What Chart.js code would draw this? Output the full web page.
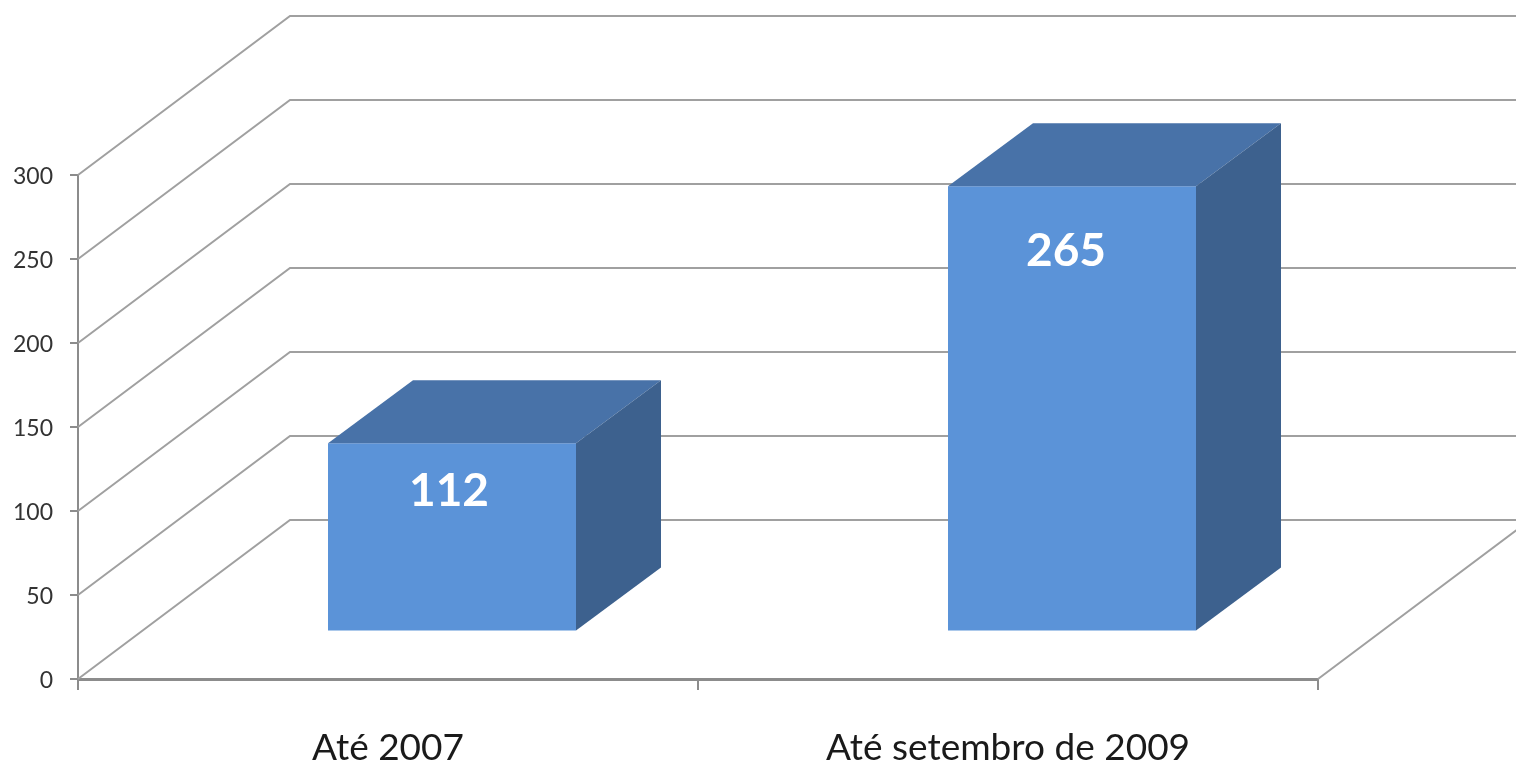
<!DOCTYPE html>
<html>
<head>
<meta charset="utf-8">
<style>
  html, body { margin: 0; padding: 0; background: #fff; }
  canvas { display: block; }
</style>
<script src="https://cdn.jsdelivr.net/npm/chart.js@4"></script>
</head>
<body>
<canvas id="myChart" width="1516" height="764"></canvas>
<script>
const categories = ["Até 2007", "Até setembro de 2009"];
const values = [112, 265];
const yTicks = [0, 50, 100, 150, 200, 250, 300];

const wallColor = "#a0a0a0";
const axisColor = "#8c8c8c";
const frontColor = "#5b93d8";
const topColor = "#4872a8";
const sideColor = "#3d618e";

// 3d look: how far the back wall and the bars sit from the front plane
const wallDepth = { x: 212, y: -159 };
const barShift = { x: 64, y: -47.5 };
const barDepth = { x: 85, y: -63 };
const labelDrop = [47.5, 64.5];
const labelNudge = [-3, -6];

function poly(ctx, pts, color) {
  ctx.fillStyle = color;
  ctx.beginPath();
  pts.forEach((p, i) => i ? ctx.lineTo(p[0], p[1]) : ctx.moveTo(p[0], p[1]));
  ctx.closePath();
  ctx.fill();
}

const fake3d = {
  id: "fake3d",
  beforeDatasetsDraw(chart) {
    const ctx = chart.ctx;
    const { x, y } = chart.scales;
    ctx.save();
    ctx.strokeStyle = wallColor;
    ctx.lineWidth = 2;
    ctx.beginPath();
    y.ticks.forEach(t => {
      const py = y.getPixelForValue(t.value);
      ctx.moveTo(x.left, py);
      ctx.lineTo(x.left + wallDepth.x, py + wallDepth.y);
      ctx.lineTo(x.right + wallDepth.x, py + wallDepth.y);
    });
    // floor edge on the right side
    const floorY = y.getPixelForValue(0);
    ctx.moveTo(x.right, floorY);
    ctx.lineTo(x.right + wallDepth.x, floorY + wallDepth.y);
    ctx.stroke();

    // y tick labels sit a bit under their ticks, the scale can't do that itself
    ctx.fillStyle = "#333";
    ctx.font = "23px Lato";
    ctx.textAlign = "right";
    ctx.textBaseline = "middle";
    y.ticks.forEach(t => {
      ctx.fillText(t.label, x.left - 25, y.getPixelForValue(t.value) + 2);
    });
    ctx.restore();
  },
  beforeDatasetDraw(chart) {
    // the front faces are the library's own bars, moved into the floor
    chart.ctx.save();
    chart.ctx.translate(barShift.x, barShift.y);
  },
  afterDatasetDraw(chart, args) {
    const ctx = chart.ctx;
    args.meta.data.forEach(bar => {
      const l = bar.x - bar.width / 2, r = bar.x + bar.width / 2;
      const t = bar.y, b = bar.base;
      poly(ctx, [[l, t], [r, t], [r + barDepth.x, t + barDepth.y], [l + barDepth.x, t + barDepth.y]], topColor);
      poly(ctx, [[r, t], [r + barDepth.x, t + barDepth.y], [r + barDepth.x, b + barDepth.y], [r, b]], sideColor);
    });
    ctx.restore();
  },
  afterDatasetsDraw(chart) {
    const ctx = chart.ctx;
    ctx.save();
    ctx.fillStyle = "#fff";
    ctx.font = "bold 46px Lato";
    ctx.textAlign = "center";
    ctx.textBaseline = "middle";
    chart.getDatasetMeta(0).data.forEach((bar, i) => {
      ctx.fillText(values[i], bar.x + barShift.x + labelNudge[i], bar.y + barShift.y + labelDrop[i]);
    });
    ctx.restore();
  }
};

new Chart("myChart", {
  type: "bar",
  data: {
    labels: categories,
    datasets: [{
      data: values,
      backgroundColor: frontColor,
      borderWidth: 0,
      barPercentage: 0.4,
      categoryPercentage: 1,
      clip: false
    }]
  },
  plugins: [fake3d],
  options: {
    responsive: false,
    animation: false,
    layout: { padding: { top: 175, right: 198, left: 0, bottom: 0 } },
    plugins: { legend: { display: false }, tooltip: { enabled: false } },
    scales: {
      x: {
        afterFit: s => { s.height = 85; },
        border: { color: axisColor, width: 3 },
        grid: { color: axisColor, lineWidth: 2, drawOnChartArea: false, tickLength: 11 },
        ticks: { color: "#1a1a1a", padding: 36, maxRotation: 0, font: { family: "Lato", size: 37 } }
      },
      y: {
        min: 0,
        max: 300,
        afterFit: s => { s.width = 78; },
        afterBuildTicks: s => { s.ticks = yTicks.map(v => ({ value: v })); },
        border: { color: axisColor, width: 2 },
        grid: { color: axisColor, lineWidth: 2, drawOnChartArea: false, tickLength: 8 },
        ticks: { display: false }
      }
    }
  }
});
</script>
</body>
</html>
